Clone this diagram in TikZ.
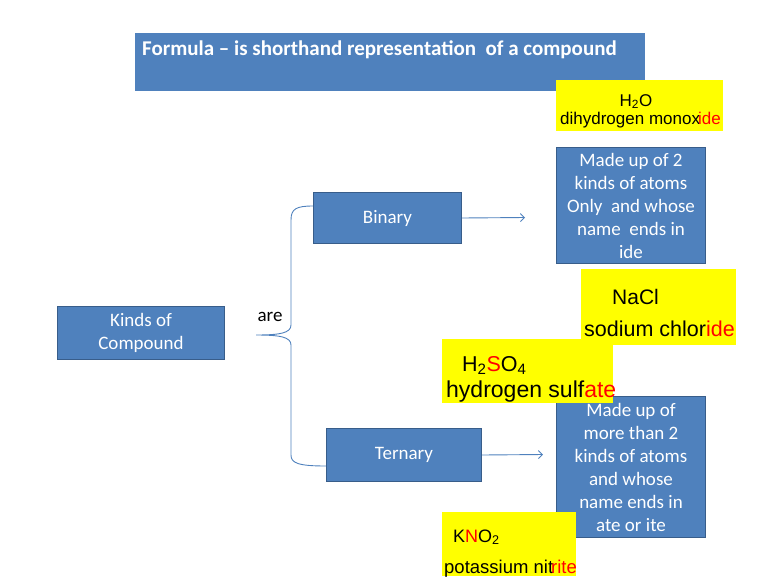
\documentclass[tikz,border=0pt]{standalone}
\usepackage{fontspec}
\setmainfont{Carlito}
\newfontfamily\arialfont{Liberation Sans}
\usetikzlibrary{arrows.meta}
\definecolor{boxblue}{HTML}{4F81BD}
\definecolor{boxedge}{HTML}{385D8A}
\definecolor{hiyellow}{HTML}{FFFF00}
\definecolor{suffixred}{HTML}{FF0000}
\newcommand{\suffix}[1]{\textcolor{suffixred}{#1}}
\begin{document}
\begin{tikzpicture}[x=1pt,y=-1pt]
  % Styles
  \tikzset{
    kind/.style={draw=boxedge,fill=boxblue,line width=1pt,text=white,align=center,
      inner sep=0pt,anchor=north west,font=\fontsize{19}{23}\selectfont},
    example/.style={fill=hiyellow,inner sep=0pt,anchor=north west},
    formula/.style={anchor=base west,inner sep=0pt},
    link/.style={draw=boxblue,line width=0.9pt},
    vector/.style={link,-{Straight Barb[length=4pt,width=8pt]}}
  }

  \useasboundingbox (0,0) rectangle (768,576);

  % Heading
  \node[fill=boxblue,inner sep=0pt,anchor=north west,minimum width=510,minimum height=58] (title) at (135,33) {};
  \node[anchor=west,inner sep=0pt,text=white,font=\bfseries\fontsize{21}{23}\selectfont] (heading) at (142,50)
    {Formula -- is shorthand representation\ \ of a compound};

  % The boxes
  \node[kind,minimum width=167,minimum height=53] (kinds) at (57,306) {Kinds of\\Compound};
  \node[kind,minimum width=148,minimum height=51] (binary) at (313,192) {Binary};
  \node[kind,minimum width=155,minimum height=53] (ternary) at (326,428) {Ternary};
  \node[kind,minimum width=149,minimum height=116] (two) at (556,147)
    {Made up of 2\\kinds of atoms\\Only\ \ and whose\\name\ \ ends in\\ide};
  \node[kind,minimum width=149,minimum height=141] (more) at (556,396)
    {Made up of\\more than 2\\kinds of atoms\\and whose\\name ends in\\ate or ite};

  \node[font=\fontsize{19}{23}\selectfont,inner sep=0pt] (are) at (270,317) {are};

  % Examples
  \node[example,minimum width=167,minimum height=51] (water) at (556,80) {};
  \node[example,minimum width=155,minimum height=76] (salt) at (581,269) {};
  \node[example,minimum width=171,minimum height=64] (acid) at (442,339) {};
  \node[example,minimum width=134,minimum height=64] (nitrite) at (442,512) {};

  \node[formula,anchor=base,font=\arialfont\fontsize{17}{17}\selectfont] (waterf) at (636,106) {H\textsubscript{2}O};
  \node[formula,font=\arialfont\fontsize{17}{17}\selectfont] (watern) at (560,124) {dihydrogen monox\kern-2pt\suffix{ide}};
  \node[formula,font=\arialfont\fontsize{21}{21}\selectfont] (saltf) at (612,304) {NaCl};
  \node[formula,font=\arialfont\fontsize{21.5}{21}\selectfont] (saltn) at (584,336) {sodium chlor\suffix{ide}};
  \node[formula,font=\arialfont\fontsize{21.5}{21}\selectfont] (acidf) at (462,371) {H\textsubscript{2}\suffix{S}O\textsubscript{4}};
  \node[formula,font=\arialfont\fontsize{23}{21}\selectfont] (acidn) at (446,397) {hydrogen sulf\suffix{ate}};
  \node[formula,font=\arialfont\fontsize{18}{18}\selectfont] (nitritef) at (453,542) {K\suffix{N}O\textsubscript{2}};
  \node[formula,font=\arialfont\fontsize{18.5}{18}\selectfont] (nitriten) at (444,573) {potassium nit\kern-2pt\suffix{rite}};

  % Connectors
  \coordinate (bintip) at (525,217.5);
  \coordinate (tertip) at (543,454.5);
  \draw[vector] (binary.east) -- (bintip);
  \draw[vector] (ternary.east) -- (tertip);

  \coordinate (bracetip) at (256,335);
  \coordinate (bracetop) at (313,206);
  \coordinate (bracebot) at (326,466);
  \draw[link] (bracetop) .. controls (296,206) and (291,209) .. (291,220) -- (291,325)
    .. controls (291,333) and (280,335) .. (bracetip)
    .. controls (280,335) and (291,337) .. (291,345) -- (291,455)
    .. controls (291,463) and (298,466) .. (bracebot);
\end{tikzpicture}
\end{document}
